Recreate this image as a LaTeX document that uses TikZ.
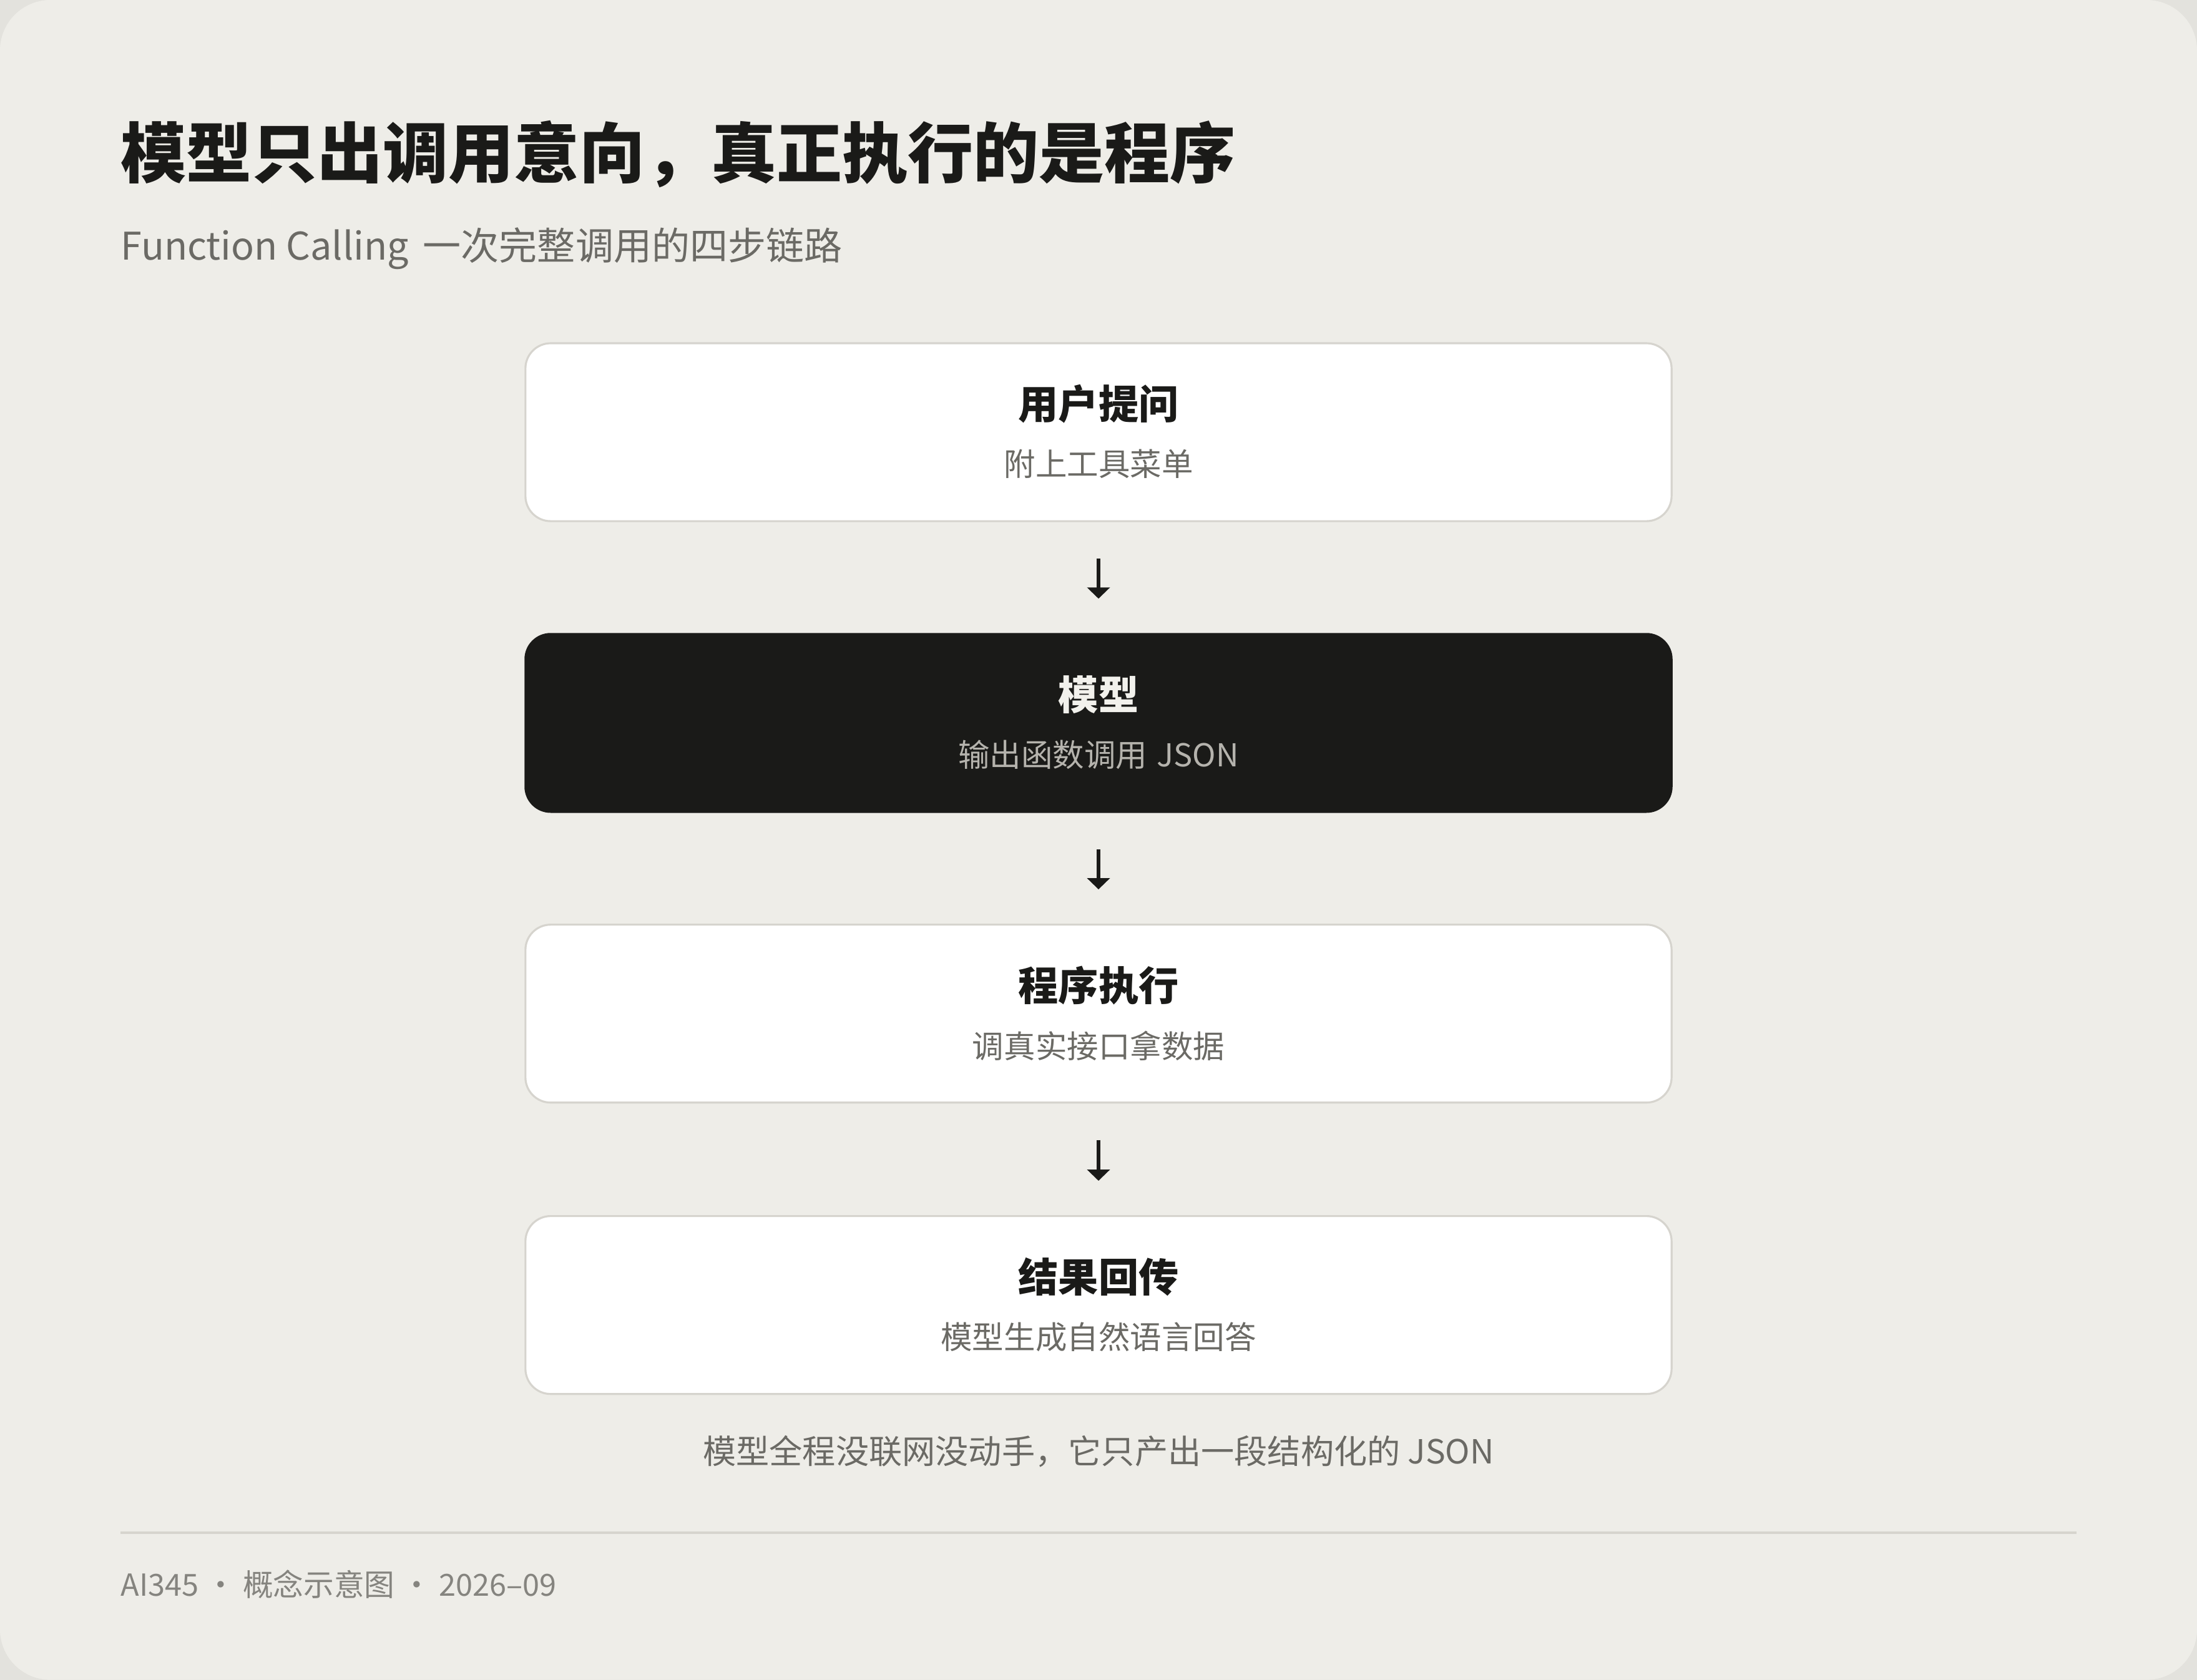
\documentclass[tikz,border=0pt]{standalone}
\usepackage{fontspec}
\setmainfont{Noto Sans CJK SC}
\usepackage{xcolor}
\usepackage{tikz}
\usetikzlibrary{arrows.meta}
\definecolor{paper}{HTML}{EEEDE8}
\definecolor{rim}{HTML}{E3E2DD}
\definecolor{ink}{HTML}{1A1A18}
\definecolor{mute}{HTML}{6B6A65}
\definecolor{faint}{HTML}{85847F}
\definecolor{rule}{HTML}{D6D4CE}
\definecolor{dimtext}{HTML}{B5B3AD}
\definecolor{lighttext}{HTML}{F2F1EC}

\begin{document}
\begin{tikzpicture}
[x=1pt,y=-1pt,
card/.style={rectangle,draw=rule,line width=1.4pt,fill=white,rounded corners=18pt,minimum width=818pt,minimum height=127pt,inner sep=0pt},
darkcard/.style={card,draw=ink,fill=ink},
head/.style={inner sep=0pt,text=ink,font=\fontsize{28.6}{34}\selectfont\bfseries},
sub/.style={inner sep=0pt,text=mute,font=\fontsize{22.5}{27}\selectfont},
flow/.style={-{Triangle[width=16pt,length=8pt]},draw=ink,line width=3pt,shorten <=26pt,shorten >=24.5pt}]
\useasboundingbox (0,0) rectangle (1568,1199);
\fill [rim] (0,0) rectangle (1568,1199);
\fill [paper,rounded corners=36pt] (0,0) rectangle (1568,1199);

% title and subtitle
\node at (86,110) [anchor=west,inner sep=0pt,text=ink,font=\fontsize{46.8}{56}\selectfont\bfseries] (title) {模型只出调用意向，真正执行的是程序};
\node at (86,177.5) [anchor=west,inner sep=0pt,text=mute,font=\fontsize{27.2}{32}\selectfont] (subtitle) {Function Calling\hspace{4pt} 一次完整调用的四步链路};

% the four steps
\node at (784,308.5) [card]     (ask)   {};
\node at (784,516)   [darkcard] (model) {};
\node at (784,723.5) [card]     (run)   {};
\node at (784,931.5) [card]     (back)  {};

\node at ([yshift=-44pt]ask.north)   [head] (askhead)   {用户提问};
\node at ([yshift=-87pt]ask.north)   [sub]  (asksub)    {附上工具菜单};
\node at ([yshift=-44pt]model.north) [head,text=lighttext] (modelhead) {模型};
\node at ([yshift=-87pt]model.north) [sub,text=dimtext]    (modelsub)  {输出函数调用\hspace{2pt} JSON};
\node at ([yshift=-44pt]run.north)   [head] (runhead)   {程序执行};
\node at ([yshift=-87pt]run.north)   [sub]  (runsub)    {调真实接口拿数据};
\node at ([yshift=-44pt]back.north)  [head] (backhead)  {结果回传};
\node at ([yshift=-87pt]back.north)  [sub]  (backsub)   {模型生成自然语言回答};

\draw [flow] (ask.south)   to (model.north);
\draw [flow] (model.south) to (run.north);
\draw [flow] (run.south)   to (back.north);

\node at (784,1036) [sub,font=\fontsize{23.7}{28}\selectfont] (note) {模型全程没联网没动手，它只产出一段结构化的 JSON};

% footer
\coordinate (ruleL) at (86,1094);
\coordinate (ruleR) at (1482,1094);
\draw [draw=rule,line width=1.8pt] (ruleL) to (ruleR);
\node at (86,1131) [anchor=west,inner sep=0pt,text=faint,font=\fontsize{21.7}{26}\selectfont] (footer) {AI345 · 概念示意图 · 2026–09};
\end{tikzpicture}
\end{document}
